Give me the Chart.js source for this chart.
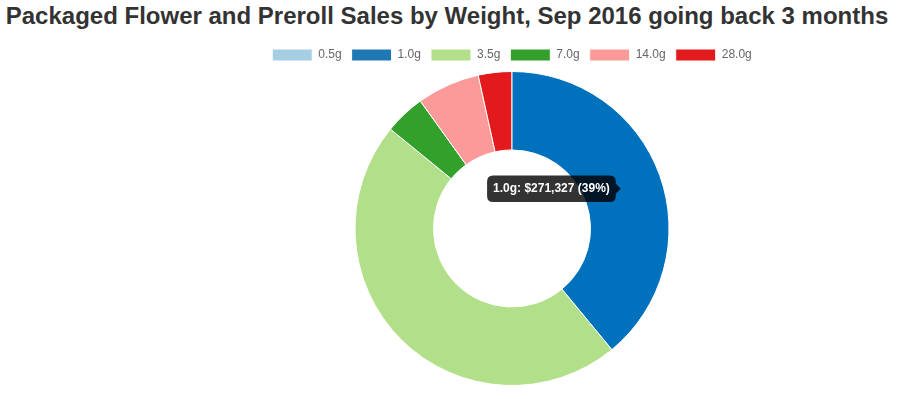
<!DOCTYPE html>
<html>
<head>
<meta charset="utf-8">
<script src="https://cdn.jsdelivr.net/npm/chart.js@4"></script>
<style>
  html, body { margin: 0; padding: 0; background: #fff; }
  #title {
    position: absolute; left: 0; top: 2px; width: 894px;
    text-align: center;
    font: bold 24px "Liberation Sans", Arial, sans-serif;
    color: #333;
  }
  #wrap { position: absolute; left: 0; top: 39px; width: 909px; height: 360px; }
</style>
</head>
<body>
<div id="title">Packaged Flower and Preroll Sales by Weight, Sep 2016 going back 3 months</div>
<div id="wrap"><canvas id="chart"></canvas></div>
<script>
// weight categories and sales ($)
const WEIGHTS = ['0.5g', '1.0g', '3.5g', '7.0g', '14.0g', '28.0g'];
const SALES   = [0, 271327, 326000, 29000, 45000, 24000];

const COLORS       = ['#a6cee3', '#1f78b4', '#b2df8a', '#33a02c', '#fb9a99', '#e31a1c'];
const HOVER_COLORS = ['#a6cee3', '#0071bd', '#b2df8a', '#33a02c', '#fb9a99', '#e31a1c'];

const total = SALES.reduce((a, b) => a + b, 0);

const ctx = document.getElementById('chart').getContext('2d');
const chart = new Chart(ctx, {
  type: 'doughnut',
  data: {
    labels: WEIGHTS,
    datasets: [{
      data: SALES,
      backgroundColor: COLORS,
      hoverBackgroundColor: HOVER_COLORS,
      borderColor: '#fff',
      hoverBorderColor: '#fff',
      borderWidth: 1,
      hoverBorderWidth: 1,
      hoverOffset: 0
    }]
  },
  options: {
    responsive: true,
    maintainAspectRatio: false,
    animation: false,
    cutout: '50%',
    layout: { padding: { left: 115, right: 0, top: 0, bottom: 13 } },
    plugins: {
      legend: {
        position: 'top',
        labels: {
          color: '#666',
          font: { family: '"Liberation Sans", Arial, sans-serif', size: 12 },
          boxWidth: 40,
          boxHeight: 12,
          padding: 10
        }
      },
      tooltip: {
        displayColors: false,
        backgroundColor: 'rgba(0,0,0,0.8)',
        bodyFont: { family: '"Liberation Sans", Arial, sans-serif', size: 12, weight: 'bold' },
        padding: 6,
        cornerRadius: 6,
        caretSize: 5,
        callbacks: {
          title: () => '',
          label: c => {
            const pct = Math.round(c.parsed / total * 100);
            return `${c.label}: $${c.parsed.toLocaleString('en-US')} (${pct}%)`;
          }
        }
      }
    }
  }
});

// show the hovered 1.0g slice with its tooltip
const active = [{ datasetIndex: 0, index: 1 }];
chart.setActiveElements(active);
chart.tooltip.setActiveElements(active, { x: 0, y: 0 });
chart.update();
</script>
</body>
</html>
